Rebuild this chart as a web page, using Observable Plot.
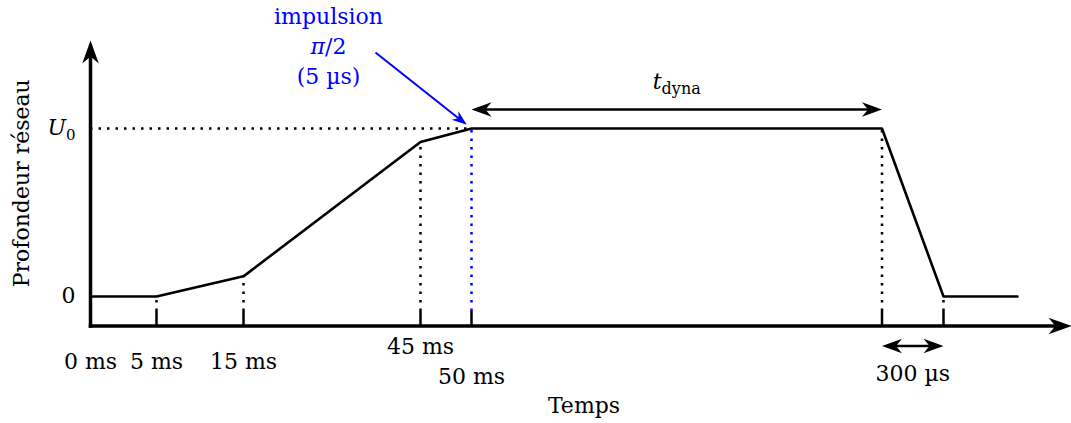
<!DOCTYPE html>
<html><head><meta charset="utf-8">
<script src="https://cdn.jsdelivr.net/npm/d3@7"></script>
<script src="https://cdn.jsdelivr.net/npm/@observablehq/plot@0.6"></script>
<style>html,body{margin:0;padding:0;background:#fff;}</style>
</head><body><div id="chart"></div>
<script>
// Schematic (not to scale) horizontal positions of the key instants
const tickPos = [0, 66, 153, 330, 381];
const tickLabels = ["0 ms", "5 ms", "15 ms", "45 ms", "50 ms"];
// Lattice depth profile: schematic time position and depth (units of U0)
const profileX = [0, 66, 153, 330, 381, 791.5, 853, 927];
const profileY = [0, 0, 0.12, 0.92, 1, 1, 0, 0];
const yTickValues = [0, 1];
const yTickLabels = ["0", "U0"];
const pulseLabel = "impulsion\nπ/2\n(5 µs)";
const dynaLabel = "tdyna";
const rampDownLabel = "300 µs";
const xTitle = "Temps";
const yTitle = "Profondeur réseau";

// ---- layout (pixels) ----
const X_PX0 = 90, Y_PX0 = 296, U0_PX = 128;
const pxU = Y_PX0 - U0_PX;             // pixels per U0
const axisY = -(325.5 - Y_PX0) / pxU;  // x-axis baseline in data units
const tickTop = -(311 - Y_PX0) / pxU;
const yTop = (Y_PX0 - 40) / pxU;
const xEnd = 1071 - X_PX0;

const profile = profileX.map((x, i) => ({x, y: profileY[i]}));
const pulseIdx = 4, plateauEnd = 5, downEnd = 6;
const guides = [1, 2, 3, 5, 6].map(i => profile[i]);
const ticksX = [1, 2, 3, 4, 5, 6].map(i => profileX[i]);
const ticks = tickPos.map((x, i) => ({x, label: tickLabels[i]}));
const yTicks = yTickValues.map((y, i) => ({y, label: yTickLabels[i]}));

const stealth = {
  draw(ctx, size) {
    const L = Math.sqrt(size / Math.PI), W = 0.36 * L;
    ctx.moveTo(0, 0); ctx.lineTo(-L, -W); ctx.lineTo(-0.7 * L, 0); ctx.lineTo(-L, W); ctx.closePath();
  }
};

const px = profileX[pulseIdx];
const blueStart = {x: px - 96, y: 1 + 76 / pxU};
const theta = Math.atan2(76, 96);
const blue = "#0000ff";
const dash = "2.5 6";
const F = 22;
const FF = "DejaVu Serif";

const svg = Plot.plot({
  width: 1071, height: 423, margin: 0,
  x: {domain: [0, xEnd], range: [X_PX0, 1071], axis: null},
  y: {domain: [0, 1], range: [Y_PX0, U0_PX], axis: null},
  style: {fontFamily: FF, fontSize: F + "px", background: "white", color: "black"},
  marks: [
    // dotted guides
    Plot.ruleY([1], {x1: 0, x2: px, stroke: "black", strokeWidth: 2.5, strokeDasharray: dash}),
    Plot.ruleX(guides, {x: "x", y1: tickTop, y2: "y", stroke: "black", strokeWidth: 2.5, strokeDasharray: dash}),
    Plot.ruleX([profile[pulseIdx]], {x: "x", y1: tickTop, y2: "y", stroke: blue, strokeWidth: 2.5, strokeDasharray: dash}),
    Plot.ruleX(ticksX, {x: d => d, y1: axisY, y2: tickTop, stroke: "black", strokeWidth: 2.5}),
    // profile
    Plot.line(profile, {x: "x", y: "y", stroke: "black", strokeWidth: 2.6, strokeLinejoin: "miter"}),
    // axes
    Plot.arrow([0], {x1: 0, y1: axisY, x2: 0, y2: yTop, headLength: 0, insetStart: -1.75, insetEnd: 12, stroke: "black", strokeWidth: 3.5, strokeLinecap: "butt"}),
    Plot.arrow([0], {x1: 0, y1: axisY, x2: xEnd, y2: axisY, headLength: 0, insetStart: -1.75, insetEnd: 12, stroke: "black", strokeWidth: 3.5, strokeLinecap: "butt"}),
    Plot.dot([{x: 0, y: yTop, r: -90}, {x: xEnd, y: axisY, r: 0}], {x: "x", y: "y", rotate: "r", symbol: stealth, r: 23, fill: "black", stroke: "none"}),
    // t_dyna double arrow
    Plot.arrow([0], {x1: px, y1: 1, x2: profileX[plateauEnd], y2: 1, dy: -19, headLength: 0, insetStart: 10, insetEnd: 10, stroke: "black", strokeWidth: 2.5, strokeLinecap: "butt"}),
    Plot.dot([{x: px, r: 180}, {x: profileX[plateauEnd], r: 0}], {x: "x", y: 1, dy: -19, rotate: "r", symbol: stealth, r: 20, fill: "black", stroke: "none"}),
    Plot.text([dynaLabel], {x: (px + profileX[plateauEnd]) / 2, y: 1, dy: -40, text: d => d, lineAnchor: "bottom", fontSize: F, fontFamily: FF}),
    // 300 µs double arrow
    Plot.arrow([0], {x1: profileX[plateauEnd], y1: axisY, x2: profileX[downEnd], y2: axisY, dy: 20, headLength: 0, insetStart: 10, insetEnd: 10, stroke: "black", strokeWidth: 2.5, strokeLinecap: "butt"}),
    Plot.dot([{x: profileX[plateauEnd], r: 180}, {x: profileX[downEnd], r: 0}], {x: "x", y: axisY, dy: 20, rotate: "r", symbol: stealth, r: 20, fill: "black", stroke: "none"}),
    Plot.text([rampDownLabel], {x: (profileX[plateauEnd] + profileX[downEnd]) / 2, y: axisY, dy: 54.5, text: d => d, lineAnchor: "bottom", fontSize: F, fontFamily: FF}),
    // pulse annotation
    Plot.arrow([0], {x1: blueStart.x, y1: blueStart.y, x2: px, y2: 1, headLength: 0, insetEnd: 15, stroke: blue, strokeWidth: 2, strokeLinecap: "butt"}),
    Plot.dot([0], {x: px, y: 1, dx: -6 * Math.cos(theta), dy: -6 * Math.sin(theta), rotate: theta * 180 / Math.PI, symbol: stealth, r: 15, fill: blue, stroke: "none"}),
    Plot.text([pulseLabel], {x: px, y: 1, dx: -143, dy: -45, text: d => d, lineAnchor: "bottom", lineHeight: 1.36, fill: blue, fontSize: F, fontFamily: FF}),
    // tick labels
    Plot.text(ticks, {filter: (d, i) => i < 3, x: "x", y: axisY, dy: 42.5, text: "label", lineAnchor: "bottom", fontSize: F, fontFamily: FF}),
    Plot.text(ticks, {filter: (d, i) => i === 3, x: "x", y: axisY, dy: 27.5, text: "label", lineAnchor: "bottom", fontSize: F, fontFamily: FF}),
    Plot.text(ticks, {filter: (d, i) => i === 4, x: "x", y: axisY, dy: 57.5, text: "label", lineAnchor: "bottom", fontSize: F, fontFamily: FF}),
    Plot.text(yTicks, {x: 0, y: "y", dx: -15, dy: 6, text: "label", textAnchor: "end", lineAnchor: "bottom", fontSize: F, fontFamily: FF}),
    // axis titles
    Plot.text([xTitle], {x: xEnd / 2, y: axisY, dx: 3, dy: 87, text: d => d, lineAnchor: "bottom", fontSize: F, fontFamily: FF}),
    Plot.text([yTitle], {x: 0, y: (axisY + yTop) / 2, dx: -62, text: d => d, rotate: -90, lineAnchor: "bottom", fontSize: F, fontFamily: FF})
  ]
});

d3.select(svg).selectAll("text, tspan").each(function() {
  if (this.childElementCount) return;
  const s = this.textContent;
  const el = d3.select(this);
  if (s === "U0") {
    el.text(null);
    el.append("tspan").attr("font-style", "italic").text("U");
    el.append("tspan").attr("font-size", 15).attr("dy", 5).text("0");
  } else if (s === "tdyna") {
    el.text(null);
    el.append("tspan").attr("font-style", "italic").text("t");
    el.append("tspan").attr("font-size", 16).attr("dy", 5).text("dyna");
  } else if (s === "π/2") {
    el.text(null);
    el.append("tspan").attr("font-style", "italic").text("π");
    this.appendChild(document.createTextNode("/2"));
  }
});

document.getElementById("chart").appendChild(svg);
</script>
</body></html>
